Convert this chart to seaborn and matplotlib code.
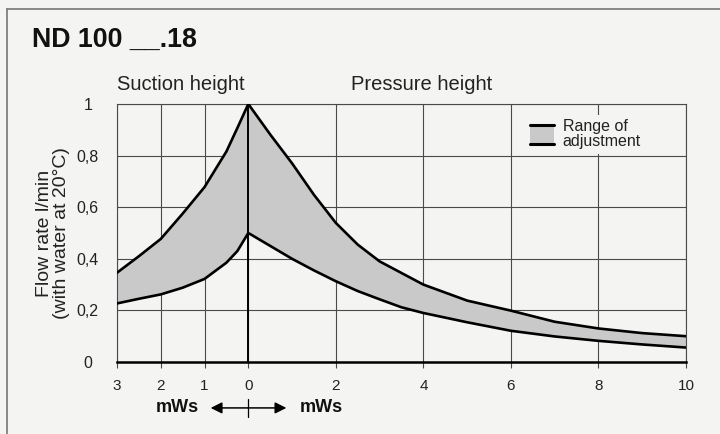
import matplotlib
matplotlib.use("Agg")
import matplotlib.pyplot as plt
import seaborn as sns
import pandas as pd
from matplotlib.legend_handler import HandlerBase
from matplotlib.patches import Rectangle
from matplotlib.lines import Line2D

# ---- data ----
head_m = [-3, -2.5, -2, -1.5, -1, -0.5, -0.25, 0, 0.5, 1, 1.5, 2, 2.5, 3, 3.5, 4, 5, 6, 7, 8, 9, 10]
flow_max = [0.346, 0.41, 0.477, 0.575, 0.678, 0.816, 0.907, 1.0, 0.882, 0.77, 0.648, 0.539, 0.455,
            0.39, 0.345, 0.30, 0.238, 0.199, 0.156, 0.130, 0.112, 0.10]
flow_min = [0.227, 0.245, 0.262, 0.288, 0.322, 0.385, 0.43, 0.5, 0.45, 0.40, 0.355, 0.313, 0.275,
            0.243, 0.212, 0.19, 0.154, 0.121, 0.099, 0.082, 0.068, 0.056]
x_ticks = [-3, -2, -1, 0, 2, 4, 6, 8, 10]
x_tick_labels = ["3", "2", "1", "0", "2", "4", "6", "8", "10"]
y_ticks = [0, 0.2, 0.4, 0.6, 0.8, 1.0]
y_tick_labels = ["0", "0,2", "0,4", "0,6", "0,8", "1"]

df = pd.DataFrame({"head": head_m, "max": flow_max, "min": flow_min})

sns.set_theme(style="white")
plt.rcParams["font.family"] = ["Liberation Sans", "DejaVu Sans"]

BG = "#f4f4f2"
BAND = "#c9c9c9"
GRID = "#4a4a4a"
TXT = "#222222"

fig = plt.figure(figsize=(7.2, 4.34), dpi=100, facecolor=BG)
ax = fig.add_axes([117 / 720, 1 - 362 / 434, (686 - 117) / 720, (362 - 104) / 434])
ax.set_facecolor(BG)

ax.fill_between(df["head"], df["min"], df["max"], color=BAND, lw=0, zorder=2)
sns.lineplot(data=df, x="head", y="max", color="black", lw=1.9, ax=ax, zorder=4)
sns.lineplot(data=df, x="head", y="min", color="black", lw=1.9, ax=ax, zorder=4)

ax.set_xlim(-3, 10)
ax.set_ylim(0, 1)
ax.set_xticks(x_ticks)
ax.set_xticklabels(x_tick_labels)
ax.set_yticks(y_ticks)
ax.set_yticklabels(y_tick_labels)
ax.grid(True, color=GRID, lw=0.8, zorder=1)
ax.set_axisbelow(True)
ax.axvline(0, color="black", lw=1.4, zorder=3)
for s in ["top", "left", "right"]:
    ax.spines[s].set_color(GRID)
    ax.spines[s].set_linewidth(0.8)
ax.spines["bottom"].set_color("black")
ax.spines["bottom"].set_linewidth(1.8)
ax.spines["bottom"].set_zorder(5)

ax.tick_params(axis="x", bottom=True, length=4, width=0.8, color=GRID, pad=8,
               labelsize=11, labelcolor=TXT)
ax.tick_params(axis="y", left=False, pad=15, labelsize=11.5, labelcolor=TXT)
for lab in ax.get_yticklabels():
    lab.set_horizontalalignment("center")
ax.set_xlabel("")
ax.set_ylabel("Flow rate l/min\n(with water at 20°C)", fontsize=14, color=TXT,
              labelpad=5, linespacing=0.95)


class HandlerBand(HandlerBase):
    def create_artists(self, legend, orig_handle, xdescent, ydescent, width, height,
                       fontsize, trans):
        x0, y0 = -xdescent, -ydescent - 3
        h = height + 6
        rect = Rectangle((x0, y0), width, h, facecolor=BAND, edgecolor="none", transform=trans)
        top = Line2D([x0, x0 + width], [y0 + h, y0 + h], color="black", lw=2.2, transform=trans)
        bot = Line2D([x0, x0 + width], [y0, y0], color="black", lw=2.2, transform=trans)
        return [rect, top, bot]


band_handle = Rectangle((0, 0), 1, 1)
leg = ax.legend([band_handle], ["Range of\nadjustment"], handler_map={Rectangle: HandlerBand()},
                loc="upper left", bbox_to_anchor=(0.703, 0.99), frameon=True, facecolor=BG,
                edgecolor="none", framealpha=1, fancybox=False, fontsize=11.5,
                handlelength=1.5, handletextpad=0.55, borderpad=0.3, labelspacing=0.2)
leg.get_frame().set_linewidth(0)
leg.set_zorder(6)
for t in leg.get_texts():
    t.set_color(TXT)
    t.set_linespacing(0.95)

# headings above the plot
xt = ax.get_xaxis_transform()
ax.text(-3, 1.054, "Suction height", transform=xt, fontsize=14.5,
        va="baseline", ha="left", color=TXT)
ax.text(2.34, 1.054, "Pressure height", transform=xt, fontsize=14.5,
        va="baseline", ha="left", color=TXT)

# mWs arrows below the x axis
for end in (-0.86, 0.87):
    ax.annotate("", xy=(end, -0.178), xytext=(0, -0.178), xycoords=xt, textcoords=xt,
                arrowprops=dict(arrowstyle="-|>", color="black", lw=1.1, mutation_scale=17,
                                shrinkA=0, shrinkB=0), annotation_clip=False)
ax.plot([0, 0], [-0.145, -0.212], transform=xt, color="black", lw=0.9, clip_on=False)
ax.text(-1.13, -0.178, "mWs", transform=xt, ha="right", va="center", fontsize=13,
        fontweight="bold", color="#111111")
ax.text(1.18, -0.178, "mWs", transform=xt, ha="left", va="center", fontsize=13,
        fontweight="bold", color="#111111")

# title and frame
fig.text(32 / 720, 1 - 47 / 434, "ND 100 __.18", fontsize=19.3, fontweight="bold",
         va="baseline", ha="left", color="#111111")
fig.add_artist(Line2D([7 / 720, 7 / 720], [0, 1 - 9 / 434], transform=fig.transFigure,
                      color="#777777", lw=1.2))
fig.add_artist(Line2D([7 / 720, 1], [1 - 9 / 434, 1 - 9 / 434], transform=fig.transFigure,
                      color="#777777", lw=1.2))

fig.savefig("out.png", dpi=100, facecolor=BG)
